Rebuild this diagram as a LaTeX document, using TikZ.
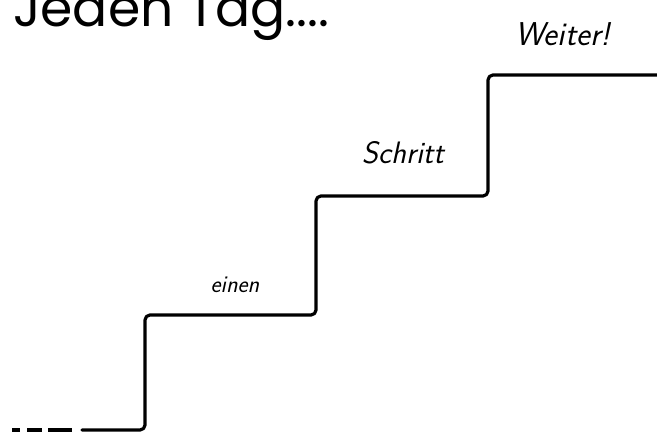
\documentclass[tikz,border=0pt]{standalone}
\usepackage{fontspec}
\newfontfamily\titlefont{Poppins}
\tikzset{
  stair/.style={line width=3.2pt, line cap=round, line join=round, rounded corners=5pt},
  dashpiece/.style={line width=3.2pt},
  titletext/.style={font=\titlefont\fontsize{52}{52}\selectfont, anchor=base west, inner sep=0pt},
  hand/.style={inner sep=0pt}
}
\begin{document}
\begin{tikzpicture}[x=1pt,y=-1pt]
\useasboundingbox (0,0) rectangle (657,433);
\node[titletext] (title) at (13,27) {Jeden Tag....};
% dashes at the start
\draw[dashpiece] (12,430) -- (20,430);
\draw[dashpiece] (27,430) -- (42,430);
\draw[dashpiece] (48,430) -- (72,430);
% stairs
\draw[stair] (82,430) -- (145,430) -- (145,315) -- (316,315) -- (316,196) -- (488,196) -- (488,75) -- (670,75);
\node[hand, font=\sffamily\slshape\fontsize{33}{33}\selectfont] (weiter) at (563,34) {Weiter!};
\node[hand, font=\sffamily\slshape\fontsize{31}{31}\selectfont] (schritt) at (403,153) {Schritt};
\node[hand, font=\sffamily\slshape\fontsize{24}{24}\selectfont] (einen) at (235,285) {einen};
\end{tikzpicture}
\end{document}
